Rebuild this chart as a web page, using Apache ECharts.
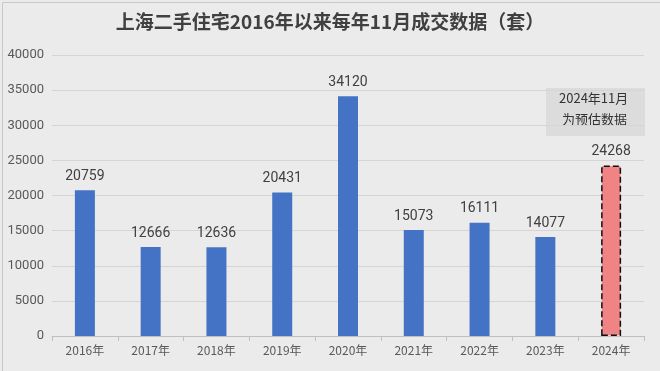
<!DOCTYPE html>
<html><head><meta charset="utf-8">
<script src="https://cdn.jsdelivr.net/npm/echarts@6/dist/echarts.min.js"></script>
<style>html,body{margin:0;padding:0;background:#ebebeb;}#c{width:660px;height:371px;}</style>
</head><body><div id="c"></div>
<script>
const categories = ['2016年','2017年','2018年','2019年','2020年','2021年','2022年','2023年','2024年'];
const values = [20759, 12666, 12636, 20431, 34120, 15073, 16111, 14077, 24268];
const estimatedIndex = 8;
const yTicks = [0, 5000, 10000, 15000, 20000, 25000, 30000, 35000, 40000];

const chart = echarts.init(document.getElementById('c'));
const data = values.map((v, i) => i === estimatedIndex ? {
  value: v,
  itemStyle: { color: '#f08383', borderColor: '#111', borderWidth: 1.5, borderType: 'dashed' }
} : { value: v });

chart.setOption({
  backgroundColor: '#ebebeb',
  title: {
    text: '上海二手住宅2016年以来每年11月成交数据（套）',
    left: 'center', top: 7,
    textStyle: { fontFamily: 'Noto Sans CJK SC', fontSize: 19, fontWeight: 'bold', color: '#404040' }
  },
  graphic: [
    { type: 'rect', left: 0, top: 0, shape: { width: 659, height: 370 }, style: { fill: 'none', stroke: '#c8c8c8', lineWidth: 1 } },
    { type: 'rect', left: 546, top: 88, shape: { width: 99, height: 48 }, style: { fill: '#dcdcdc' } },
    { type: 'text', left: 559, top: 92, style: { text: '2024年11月', font: '13px "Noto Sans CJK SC"', fill: '#333' } },
    { type: 'text', left: 562, top: 113, style: { text: '为预估数据', font: '13px "Noto Sans CJK SC"', fill: '#333' } }
  ],
  grid: { left: 52, right: 16, top: 55, bottom: 35 },
  xAxis: {
    type: 'category', data: categories,
    axisLine: { lineStyle: { color: '#bfbfbf' } },
    axisTick: { show: true, lineStyle: { color: '#bfbfbf' } },
    axisLabel: { color: '#595959', fontSize: 12, fontFamily: 'Noto Sans CJK SC', margin: 8 }
  },
  yAxis: {
    type: 'value', min: yTicks[0], max: yTicks[yTicks.length - 1], interval: 5000,
    axisLine: { show: false }, axisTick: { show: false },
    splitLine: { lineStyle: { color: '#d5d5d5' } },
    axisLabel: { color: '#595959', fontSize: 13, fontFamily: 'Roboto', margin: 8, formatter: v => String(v) }
  },
  series: [{
    type: 'bar', data: data, barWidth: 20,
    itemStyle: { color: '#4472c4' },
    label: { show: true, position: 'top', color: '#404040', fontSize: 14, fontFamily: 'Roboto', distance: 7 }
  }]
});
</script></body></html>
